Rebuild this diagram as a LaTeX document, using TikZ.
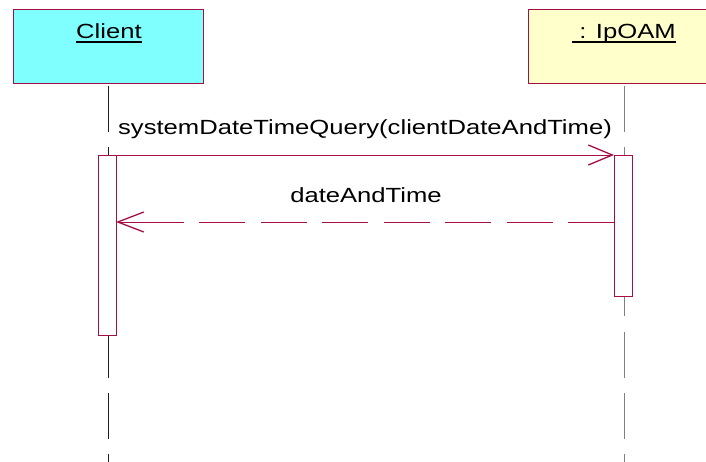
\documentclass[tikz,border=0pt]{standalone}
\usepackage{fontspec}
\setmainfont{Liberation Sans}[FakeStretch=1.25]
\usetikzlibrary{arrows.meta}
\definecolor{crim}{RGB}{165,15,70}
\definecolor{cyanfill}{RGB}{128,255,255}
\definecolor{yelfill}{RGB}{255,255,204}
\definecolor{lifegray}{RGB}{128,128,128}
\definecolor{lifedark}{RGB}{30,30,30}
\begin{document}
\begin{tikzpicture}[x=1pt,y=-1pt,
  objbox/.style={draw=crim, line width=1pt, minimum width=190pt, minimum height=74pt, inner sep=0pt, anchor=north west},
  lbl/.style={inner sep=0pt, font=\fontsize{20.5}{24}\selectfont, text=black},
  uline/.style={line width=1.4pt, black},
  lifeline/.style={line width=0.9pt, dash pattern=on 46pt off 15.4pt},
  actbox/.style={draw=crim, line width=0.8pt, fill=white, minimum width=18pt, inner sep=0pt, anchor=north west},
  msg/.style={draw=crim, line width=0.8pt},
  tipA/.style={-{Straight Barb[length=24pt,width=20pt,line width=1.3pt]}},
  tipB/.style={-{Straight Barb[length=26pt,width=20pt,line width=1.3pt]}}
]
\useasboundingbox (0,0) rectangle (706,461);
\clip (0,0) rectangle (706,461);
\fill[white] (0,0) rectangle (706,461);

% object boxes
\node[objbox, fill=cyanfill] (client) at (12.5,9) {};
\node[objbox, fill=yelfill, minimum width=192pt] (oam) at (528,9) {};
\node[lbl, anchor=base] (clientlbl) at (109,38) {Client};
\node[lbl, anchor=base] (oamlbl) at (624,38) {~: IpOAM};
\draw[uline] ([yshift=-4pt]clientlbl.base west) -- ([yshift=-4pt]clientlbl.base east);
\draw[uline] ([yshift=-4pt]oamlbl.base west) -- ([yshift=-4pt]oamlbl.base east);

% lifelines
\coordinate (cl0) at (108,86);
\coordinate (cl1) at (108,470);
\coordinate (ol0) at (624,86);
\coordinate (ol1) at (624,470);
\draw[lifeline, lifedark] (cl0) -- (cl1);
\draw[lifeline, lifegray] (ol0) -- (ol1);

% activations
\node[actbox, minimum height=180pt] (cact) at (98,155) {};
\node[actbox, minimum height=141pt] (oact) at (614,155) {};

% message 1
\draw[msg, tipA] (cact.north east) -- (oact.north west);
\node[lbl, anchor=base] (m1lbl) at (365,134) {systemDateTimeQuery(clientDateAndTime)};

% message 2 (return)
\coordinate (m2s) at (614,222);
\coordinate (m2m) at (183.5,222);
\coordinate (m2e) at (116,222);
\draw[msg, dash pattern=on 46pt off 15.5pt] (m2s) -- (m2m);
\draw[msg, tipB] (m2m) -- (m2e);
\node[lbl, anchor=base] (m2lbl) at (366,202) {dateAndTime};
\end{tikzpicture}
\end{document}
